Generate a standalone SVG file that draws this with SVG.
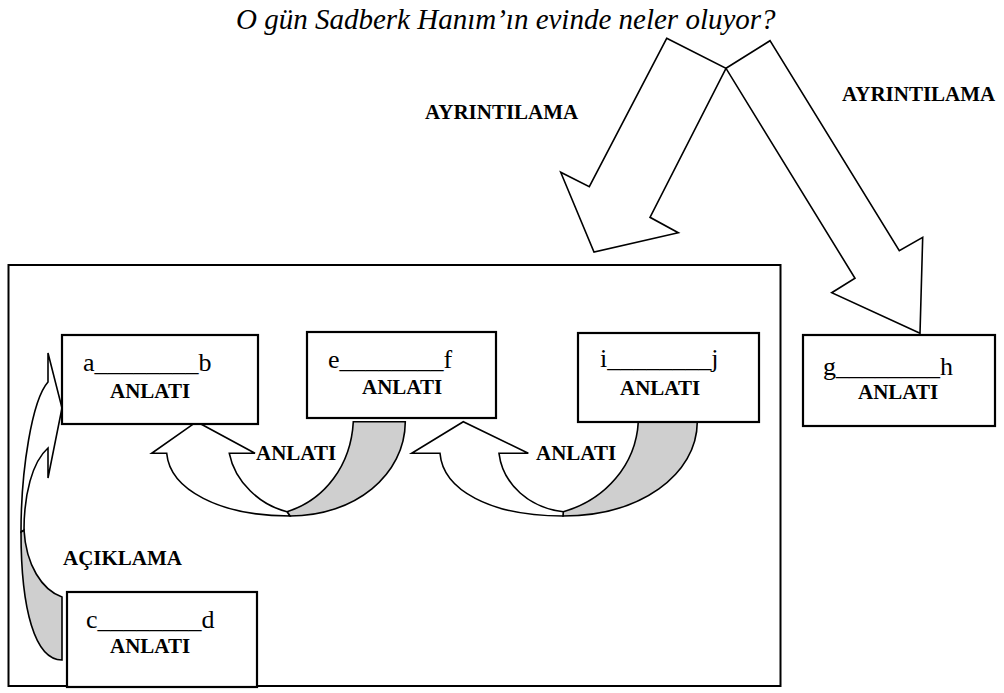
<svg xmlns="http://www.w3.org/2000/svg" width="1004" height="693" viewBox="0 0 1004 693">
<style>
.box{fill:#fff;stroke:#000;stroke-width:2.2}
.frame{fill:none;stroke:#000;stroke-width:2}
.arr{fill:#fff;stroke:#000;stroke-width:1.6;stroke-linejoin:miter}
.back{fill:#cfcfcf;stroke:#000;stroke-width:1.6}
text{font-family:'Liberation Serif','Tinos','Times New Roman','DejaVu Serif',serif;fill:#000}
.t{font-size:26px}
.b{font-size:21px;font-weight:bold}
.title{font-size:29px;font-style:italic}
</style>
<rect width="1004" height="693" fill="#fff"/>
<text class="title" x="236" y="29" font-family="Liberation Serif, serif">O gün Sadberk Hanım’ın evinde neler oluyor?</text>
<g id="frame"><rect class="frame" x="8.5" y="265" width="772" height="421"/></g>
<g id="connectors">
  <polygon class="arr" points="666.7,38.3 726,68.3 650,217.3 678.3,232.7 594,252 560.7,172.3 589.3,186.7"/>
  <polygon class="arr" points="726,68.3 770,40.7 899.3,250.7 922.7,237.3 920,333.3 831.7,292.7 855,278.3"/>
  <path class="back" d="M353.3,421.7 L405.3,421.7 C405,475 355,516 290,516 L287,511.7 C325,500 351,465 353.3,421.7 Z"/>
  <path class="arr" d="M166.7,453.3 L151.7,453.3 L196.7,421.7 L255,453.3 L229.3,453.3 C235,482 260,505 287,511.7 L290,516 C220,516 170,490 166.7,453.3 Z"/>
  <path class="back" d="M638.3,421.7 L697.3,421.7 C697,475 640,516 563,516 L563.3,511.7 C605,500 636,465 638.3,421.7 Z"/>
  <path class="arr" d="M440,453.3 L411.7,453.3 L463.3,421.7 L528.3,453.3 L499,453.3 C503,485 530,508 563.3,511.7 L563,516 C490,516 443,490 440,453.3 Z"/>
  <path class="back" d="M62,597 L62,660 C35,660 21,610 21,532 L24,530 C26,565 42,590 62,597 Z"/>
  <path class="arr" d="M48,382 L48,353 L62,408 L48,478 L48,448 C32,462 24,495 24,530 L21,532 C21,470 32,400 48,382 Z"/>
  <text class="b" x="425" y="119">AYRINTILAMA</text>
  <text class="b" x="842" y="101">AYRINTILAMA</text>
  <text class="b" x="63" y="565">AÇIKLAMA</text>
  <text class="b" x="256" y="460">ANLATI</text>
  <text class="b" x="536" y="460">ANLATI</text>
</g>
<g id="node-ab">
  <rect class="box" x="62" y="335" width="196" height="89"/>
  <text class="t" x="83" y="371">a________b</text>
  <text class="b" x="110" y="398">ANLATI</text>
</g>
<g id="node-ef">
  <rect class="box" x="307" y="332" width="189" height="86"/>
  <text class="t" x="328" y="368">e________f</text>
  <text class="b" x="362" y="394">ANLATI</text>
</g>
<g id="node-ij">
  <rect class="box" x="578" y="333" width="181" height="89"/>
  <text class="t" x="600" y="367">i________j</text>
  <text class="b" x="620" y="395">ANLATI</text>
</g>
<g id="node-gh">
  <rect class="box" x="803" y="335" width="192" height="91"/>
  <text class="t" x="823" y="375">g________h</text>
  <text class="b" x="858" y="399">ANLATI</text>
</g>
<g id="node-cd">
  <rect class="box" x="67" y="592" width="190" height="95"/>
  <text class="t" x="86" y="628">c________d</text>
  <text class="b" x="110" y="653">ANLATI</text>
</g>
</svg>
